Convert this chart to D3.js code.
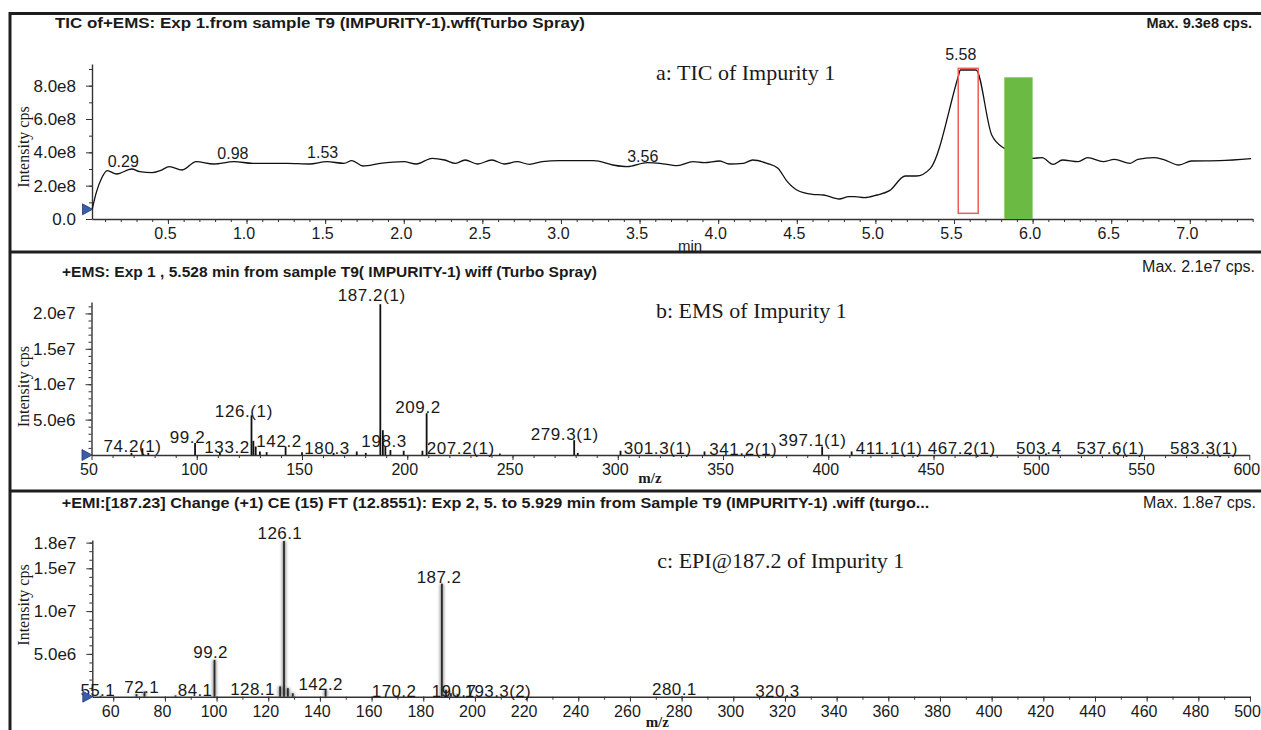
<!DOCTYPE html>
<html>
<head>
<meta charset="utf-8">
<script src="https://cdn.jsdelivr.net/npm/d3@7"></script>
<style>
  body { margin: 0; background: #fff; }
  svg { display: block; }
  text { font-family: "Liberation Sans", Arial, Helvetica, sans-serif; fill: #1a1a1a; }
  .serif { font-family: "Liberation Serif", "Times New Roman", Times, serif; }
</style>
</head>
<body>
<svg id="chart" width="1261" height="730"></svg>
<script>
// ---------- Panel a: total ion chromatogram ----------
const ticTime = [0.018, 0.046, 0.078, 0.114, 0.174, 0.27, 0.32, 0.40, 0.45, 0.51, 0.59, 0.68, 0.79, 0.92,
  1.04, 1.26, 1.40, 1.51, 1.62, 1.67, 1.74, 1.85, 2.00, 2.08, 2.18, 2.26, 2.33, 2.39, 2.47, 2.56, 2.64,
  2.72, 2.80, 2.88, 2.99, 3.21, 3.33, 3.42, 3.55, 3.63, 3.74, 3.84, 3.91, 4.01, 4.07, 4.16, 4.22, 4.31,
  4.38, 4.44, 4.50, 4.60, 4.67, 4.77, 4.83, 4.87, 4.93, 5.01, 5.09, 5.19, 5.26, 5.35, 5.53, 5.54, 5.64,
  5.74, 5.82, 6.00, 6.06, 6.13, 6.19, 6.29, 6.35, 6.45, 6.52, 6.62, 6.67, 6.77, 6.83, 6.93, 7.01, 7.19, 7.39];
const ticIntensity = [0.58, 1.64, 2.44, 2.9, 2.7, 3.0, 2.84, 2.78, 2.9, 3.14, 2.94, 3.44, 3.3, 3.44,
  3.34, 3.34, 3.3, 3.44, 3.34, 3.5, 3.18, 3.34, 3.44, 3.3, 3.64, 3.54, 3.34, 3.54, 3.3, 3.54, 3.3,
  3.44, 3.28, 3.44, 3.5, 3.5, 3.24, 3.14, 3.38, 3.34, 3.2, 3.44, 3.38, 3.48, 3.3, 3.34, 3.54, 3.34,
  3.04, 2.24, 1.74, 1.48, 1.44, 1.2, 1.34, 1.34, 1.28, 1.44, 1.7, 2.58, 2.58, 3.04, 8.64, 8.94, 8.94,
  5.04, 4.24, 3.64, 3.68, 3.28, 3.54, 3.44, 3.68, 3.44, 3.58, 3.34, 3.58, 3.68, 3.58, 3.24, 3.48, 3.5, 3.62]
  .map(v => v * 1e8);
const ticLabels = ["0.29", "0.98", "1.53", "3.56", "5.58"];
const ticLabelTime = [0.216, 0.913, 1.484, 3.52, 5.543];
const ticLabelInt = [3.14e8, 3.6e8, 3.66e8, 3.44e8, 9.54e8];
const ticYTicks = [0, 2e8, 4e8, 6e8, 8e8];
const ticXTicks = [0.5, 1.0, 1.5, 2.0, 2.5, 3.0, 3.5, 4.0, 4.5, 5.0, 5.5, 6.0, 6.5, 7.0];
const ticMax = 9.3e8;
// selected spectrum window and the neighbouring window (min, cps)
const selectWindow = [5.527, 5.654, 0.34e8, 9.04e8];
const nextWindow = [5.82, 6.0, 0, 8.5e8];

// ---------- Panel b: enhanced MS spectrum ----------
const emsMz = [69.0, 74.2, 77.0, 99.2, 111.0, 126.0, 126.9, 128.0, 130.0, 133.2, 142.2, 150.0, 165.0, 176.0,
  180.3, 187.2, 188.4, 189.6, 192.0, 198.3, 207.2, 209.2, 244.0, 279.3, 281.0, 301.3, 341.2, 397.1, 411.1,
  467.2, 503.4, 537.6, 583.3];
const emsInt = [0.3, 0.95, 0.3, 1.7, 0.3, 5.6, 2.0, 1.2, 0.5, 0.4, 1.2, 0.4, 0.3, 0.5,
  0.3, 21.3, 3.5, 1.2, 0.7, 0.6, 0.6, 5.9, 0.2, 2.1, 0.3, 0.6, 0.5, 1.2, 0.5,
  0.2, 0.2, 0.2, 0.2].map(v => v * 1e6);
const emsLabels = ["74.2(1)", "99.2", "126.(1)", "133.2", "142.2", "180.3", "187.2(1)", "198.3", "209.2",
  "207.2(1)", "279.3(1)", "301.3(1)", "341.2(1)", "397.1(1)", "411.1(1)", "467.2(1)", "503.4", "537.6(1)", "583.3(1)"];
const emsLabelMz = [69.5, 95.6, 122.4, 114.4, 139.1, 161.9, 183.1, 189.0, 205.1,
  225.4, 274.8, 319.0, 359.6, 392.5, 428.9, 463.4, 500.0, 534.1, 578.5];
const emsLabelInt = [0.47, 1.74, 5.41, 0.24, 1.17, 0.14, 21.8, 1.17, 5.89,
  0.14, 2.12, 0.14, 0.0, 1.27, 0.14, 0.14, 0.14, 0.14, 0.14].map(v => v * 1e6);
const emsYTicks = [5e6, 1e7, 1.5e7, 2e7];
const emsXTicks = [50, 100, 150, 200, 250, 300, 350, 400, 450, 500, 550, 600];

// ---------- Panel c: enhanced product ion spectrum of m/z 187.2 ----------
const epiMz = [55.1, 69.0, 72.1, 84.1, 99.2, 124.6, 126.1, 127.6, 129.5, 142.2, 170.2, 187.2, 188.8, 190.7, 193.3, 280.1, 320.3];
const epiInt = [0.1, 0.3, 0.6, 0.15, 4.3, 1.2, 18.2, 1.0, 0.4, 0.8, 0.1, 13.2, 0.8, 0.4, 0.3, 0.05, 0.05]
  .map(v => v * 1e6);
const epiLabels = ["55.1", "72.1", "84.1", "99.2", "128.1", "126.1", "142.2", "170.2", "187.2", "190.7", "193.3(2)", "280.1", "320.3"];
const epiLabelMz = [54.0, 71.0, 91.7, 97.7, 113.9, 124.5, 140.3, 168.7, 186.1, 191.9, 208.9, 277.2, 317.1];
const epiLabelInt = [0.08, 0.47, 0.12, 4.49, 0.2, 18.4, 0.78, 0.0, 13.25, 0.0, 0.0, 0.2, 0.0].map(v => v * 1e6);
const epiYTicks = [5e6, 1e7, 1.5e7, 1.8e7];
const epiXTicks = d3.range(60, 501, 20);

// ---------- drawing ----------
const svg = d3.select("#chart");
const fmtE = v => v === 0 ? "0.0" : d3.format(".1e")(v).replace("e+", "e");

function styleAxis(sel, size, dx) {
  sel.attr("font-family", null).attr("font-size", null);
  sel.select(".domain").attr("stroke", "#333").attr("stroke-width", 1.4);
  sel.selectAll(".tick line").attr("stroke", "#333").attr("stroke-width", 1);
  sel.selectAll(".tick text").style("font-size", size + "px").attr("fill", "#1a1a1a");
  if (dx) sel.selectAll(".tick text").attr("dx", dx);
}

function xAxis(scale, y0, major, minor, fmt) {
  svg.append("g").attr("transform", `translate(0,${y0})`)
    .call(d3.axisBottom(scale).tickValues(minor).tickSize(3).tickFormat(""))
    .call(s => { s.select(".domain").remove(); s.selectAll(".tick line").attr("stroke", "#333"); });
  svg.append("g").attr("transform", `translate(0,${y0})`)
    .call(d3.axisBottom(scale).tickValues(major).tickSize(5).tickSizeOuter(0).tickPadding(4).tickFormat(fmt))
    .call(s => styleAxis(s, 16, -3));
}

function yAxis(scale, x0, major, minor) {
  svg.append("g").attr("transform", `translate(${x0},0)`)
    .call(d3.axisLeft(scale).tickValues(minor).tickSize(3).tickFormat(""))
    .call(s => { s.select(".domain").remove(); s.selectAll(".tick line").attr("stroke", "#333"); });
  svg.append("g").attr("transform", `translate(${x0},0)`)
    .call(d3.axisLeft(scale).tickValues(major).tickSize(6).tickSizeOuter(0).tickPadding(10).tickFormat(fmtE))
    .call(s => styleAxis(s, 17, 0));
}

function startMarker(x, y) {
  svg.append("path")
    .attr("d", `M${x - 10},${y - 5.5} L${x},${y} L${x - 10},${y + 5.5} Z`)
    .attr("fill", "#3b5ca8").attr("stroke", "#203a7a").attr("stroke-width", 0.8);
}

function yTitle(cy) {
  svg.append("text").attr("class", "serif")
    .attr("transform", `translate(28.5,${cy}) rotate(-90)`)
    .attr("text-anchor", "middle").style("font-size", "16px")
    .text("Intensity cps");
}

function header(x, base, str, width, bold) {
  svg.append("text").attr("x", x).attr("y", base)
    .attr("textLength", width).attr("lengthAdjust", "spacingAndGlyphs")
    .style("font-size", "14px").style("font-weight", bold ? "bold" : "normal")
    .text(str);
}

function maxLabel(xEnd, base, str, bold) {
  svg.append("text").attr("x", xEnd).attr("y", base).attr("text-anchor", "end")
    .style("font-size", bold ? "14.5px" : "16px").style("font-weight", bold ? "bold" : "normal")
    .text(str);
}

function note(x, base, str) {
  svg.append("text").attr("class", "serif").attr("x", x).attr("y", base)
    .style("font-size", "22px").text(str);
}

function sticks(x, y, mz, inten, color, width) {
  svg.append("g").selectAll("line").data(mz.map((m, i) => [m, inten[i]])).join("line")
    .attr("x1", d => x(d[0])).attr("x2", d => x(d[0]))
    .attr("y1", y(0)).attr("y2", d => y(d[1]))
    .attr("stroke", color).attr("stroke-width", width);
}

function peakLabels(x, y, labels, lm, li, spacing) {
  svg.append("g").selectAll("text").data(labels).join("text")
    .attr("x", (d, i) => x(lm[i])).attr("y", (d, i) => y(li[i]))
    .attr("text-anchor", "middle")
    .style("font-size", "17px").style("letter-spacing", spacing + "px")
    .text(d => d);
}

// ---- panel a ----
const xa = d3.scaleLinear().domain([0.017, 7.40]).range([92, 1252.7]);
const ya = d3.scaleLinear().domain([0, ticMax]).range([219, 64]);

header(55, 27.5, "TIC of+EMS: Exp 1.from sample T9 (IMPURITY-1).wff(Turbo Spray)", 530, true);
maxLabel(1252, 27.5, "Max. 9.3e8 cps.", true);
note(656, 80, "a: TIC of Impurity 1");

yAxis(ya, 92, ticYTicks, d3.range(1e8, 9.01e8, 1e8));
xAxis(xa, 219, ticXTicks, d3.range(0.1, 7.41, 0.1), d3.format(".1f"));
yTitle(147);
svg.append("text").attr("x", 690).attr("y", 251).attr("text-anchor", "middle")
  .style("font-size", "15px").text("min");

const ticLine = d3.line().x(d => xa(d[0])).y(d => ya(d[1])).curve(d3.curveMonotoneX);
svg.append("path").datum(ticTime.map((t, i) => [t, ticIntensity[i]]))
  .attr("d", ticLine).attr("fill", "none").attr("stroke", "#111").attr("stroke-width", 1.3);

svg.append("rect")
  .attr("x", xa(selectWindow[0])).attr("width", xa(selectWindow[1]) - xa(selectWindow[0]))
  .attr("y", ya(selectWindow[3])).attr("height", ya(selectWindow[2]) - ya(selectWindow[3]))
  .attr("fill", "none").attr("stroke", "#ee5a5a").attr("stroke-width", 1.5);
svg.append("rect")
  .attr("x", xa(nextWindow[0])).attr("width", xa(nextWindow[1]) - xa(nextWindow[0]))
  .attr("y", ya(nextWindow[3])).attr("height", ya(nextWindow[2]) - ya(nextWindow[3]))
  .attr("fill", "#6aba43");

svg.append("g").selectAll("text").data(ticLabels).join("text")
  .attr("x", (d, i) => xa(ticLabelTime[i])).attr("y", (d, i) => ya(ticLabelInt[i]))
  .attr("text-anchor", "middle").style("font-size", "16px").text(d => d);
startMarker(92.5, ya(ticIntensity[0]));

// ---- panel b ----
const xb = d3.scaleLinear().domain([50, 600]).range([91.5, 1249.3]);
const yb = d3.scaleLinear().domain([0, 2.16e7]).range([455, 302.1]);

header(62, 276.5, "+EMS: Exp 1 , 5.528 min from sample T9( IMPURITY-1) wiff (Turbo Spray)", 535, true);
maxLabel(1255, 271.5, "Max. 2.1e7 cps.", false);
note(656, 318.3, "b: EMS of Impurity 1");

sticks(xb, yb, emsMz, emsInt, "#111", 1.8);
yAxis(yb, 91.5, emsYTicks, d3.range(1e6, 2.16e7, 1e6));
xAxis(xb, 455, emsXTicks, d3.range(60, 600, 10), d3.format("d"));
yTitle(386.7);
svg.append("text").attr("class", "serif").attr("x", 650).attr("y", 482.5)
  .attr("text-anchor", "middle").style("font-size", "15px").style("font-weight", "bold").text("m/z");
peakLabels(xb, yb, emsLabels, emsLabelMz, emsLabelInt, 0.6);
startMarker(92, yb(0));

// ---- panel c ----
const xc = d3.scaleLinear().domain([51.9, 500]).range([92.3, 1250]);
const yc = d3.scaleLinear().domain([0, 1.83e7]).range([696.7, 540.05]);

header(61.7, 507.5, "+EMI:[187.23] Change (+1) CE (15) FT (12.8551): Exp 2, 5. to 5.929 min from Sample T9 (IMPURITY-1) .wiff (turgo...", 867.6, true);
maxLabel(1256, 507.5, "Max. 1.8e7 cps.", false);
note(657.3, 568.3, "c: EPI@187.2 of Impurity 1");

const halo = svg.append("defs").append("filter").attr("id", "soft");
halo.append("feGaussianBlur").attr("stdDeviation", 1.6);
svg.append("g").attr("filter", "url(#soft)").selectAll("line")
  .data(epiMz.map((m, i) => [m, epiInt[i]])).join("line")
  .attr("x1", d => xc(d[0])).attr("x2", d => xc(d[0]))
  .attr("y1", yc(0)).attr("y2", d => yc(d[1]))
  .attr("stroke", "#999").attr("stroke-width", 4);
sticks(xc, yc, epiMz, epiInt, "#2a2a2a", 1.8);
yAxis(yc, 92.3, epiYTicks, d3.range(1e6, 1.81e7, 1e6));
xAxis(xc, 696.7, epiXTicks, d3.range(60, 501, 10), d3.format("d"));
yTitle(605);
svg.append("text").attr("class", "serif").attr("x", 657.3).attr("y", 727)
  .attr("text-anchor", "middle").style("font-size", "15px").style("font-weight", "bold").text("m/z");
peakLabels(xc, yc, epiLabels, epiLabelMz, epiLabelInt, 0.4);
startMarker(92.8, yc(0));

// ---- frame and panel dividers ----
const frame = svg.append("g").attr("stroke", "#1e1e1e").attr("stroke-width", 3);
frame.append("line").attr("x1", 10).attr("x2", 1261).attr("y1", 13.5).attr("y2", 13.5);
frame.append("line").attr("x1", 10).attr("x2", 10).attr("y1", 12).attr("y2", 730);
frame.append("line").attr("x1", 10).attr("x2", 1261).attr("y1", 252).attr("y2", 252);
frame.append("line").attr("x1", 10).attr("x2", 1261).attr("y1", 491).attr("y2", 491);
</script>
</body>
</html>
